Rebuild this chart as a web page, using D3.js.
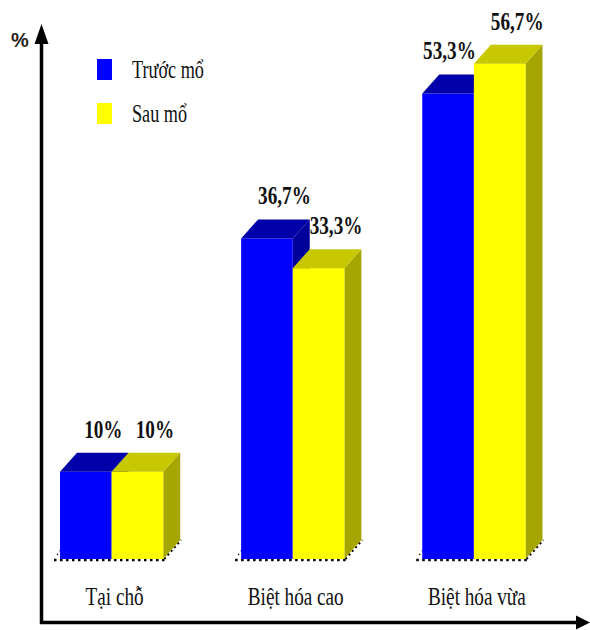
<!DOCTYPE html>
<html>
<head>
<meta charset="utf-8">
<script src="https://cdn.jsdelivr.net/npm/d3@7"></script>
<style>
  html, body { margin: 0; padding: 0; background: #fff; }
  svg { display: block; }
</style>
</head>
<body>
<svg id="chart" width="590" height="630"></svg>
<script>
// Data
const categories = ["Tại chỗ", "Biệt hóa cao", "Biệt hóa vừa"];
const series = ["Trước mổ", "Sau mổ"];
const beforeValues = [10, 36.7, 53.3];
const afterValues = [10, 33.3, 56.7];
const valueLabels = [["10%", "10%"], ["36,7%", "33,3%"], ["53,3%", "56,7%"]];

const values = [beforeValues, afterValues];

// Face colours per series: front, top, side
const palette = [
  { front: "#0000ff", top: "#0000aa", side: "#00009a" },
  { front: "#ffff00", top: "#c8c800", side: "#a6a600" }
];

const svg = d3.select("#chart");

// Scales
const baseY = 559;
const y = d3.scaleLinear().domain([0, 64]).range([baseY, 0]);
const x = d3.scaleBand().domain(categories).range([60, 525.5]).paddingInner(0.43).paddingOuter(0);
const xs = d3.scaleBand().domain(series).range([0, x.bandwidth()]).padding(0);

// 3D depth offset
const DX = 17, DY = 19;

// Floor outline (dotted) under each group
categories.forEach(c => {
  const x0 = x(c), x1 = x(c) + x.bandwidth();
  svg.append("line")
    .attr("x1", x0 - 6).attr("y1", baseY + 1)
    .attr("x2", x1 + 2).attr("y2", baseY + 1)
    .attr("stroke", "#000").attr("stroke-width", 2.5)
    .attr("stroke-dasharray", "2.5,3.5");
  svg.append("line")
    .attr("x1", x1 + 1).attr("y1", baseY)
    .attr("x2", x1 + DX + 1).attr("y2", baseY - DY)
    .attr("stroke", "#000").attr("stroke-width", 2)
    .attr("stroke-dasharray", "2,3");
  svg.append("line")
    .attr("x1", x0 - 3).attr("y1", baseY - 4)
    .attr("x2", x0 + 3).attr("y2", baseY - 12)
    .attr("stroke", "#000").attr("stroke-width", 1.2)
    .attr("stroke-dasharray", "1.5,3");
});

// Bars as extruded boxes
categories.forEach((c, ci) => {
  series.forEach((s, si) => {
    const v = values[si][ci];
    const col = palette[si];
    const bx = x(c) + xs(s), bw = xs.bandwidth();
    const ty = y(v), by = y(0);
    const g = svg.append("g");
    // side
    g.append("polygon")
      .attr("points", [[bx + bw, ty], [bx + bw + DX, ty - DY], [bx + bw + DX, by - DY], [bx + bw, by]].join(" "))
      .attr("fill", col.side);
    // front
    g.append("rect")
      .attr("x", bx).attr("y", ty).attr("width", bw).attr("height", by - ty)
      .attr("fill", col.front);
    // top
    g.append("polygon")
      .attr("points", [[bx, ty], [bx + DX, ty - DY], [bx + bw + DX, ty - DY], [bx + bw, ty]].join(" "))
      .attr("fill", col.top);
  });
});

// Value labels above each bar
categories.forEach((c, ci) => {
  series.forEach((s, si) => {
    const v = values[si][ci];
    const bx = x(c) + xs(s), bw = xs.bandwidth();
    const next = si + 1 < series.length ? values[si + 1][ci] : null;
    let lx = bx + bw / 2 + DX / 2 + 9;
    let anchor = "middle";
    if (next !== null && next > v) {
      // keep clear of the taller neighbour
      lx = bx + bw + 2;
      anchor = "end";
    }
    const ly = y(v) - DY - 15;
    svg.append("g")
      .attr("transform", `translate(${lx},${ly}) scale(0.8,1.04)`)
      .append("text")
      .attr("text-anchor", anchor)
      .attr("font-family", "Liberation Serif, 'Times New Roman', serif")
      .attr("font-weight", "bold")
      .attr("font-size", 24)
      .attr("fill", "#111")
      .text(valueLabels[ci][si]);
  });
});

// Category labels
categories.forEach(c => {
  svg.append("g")
    .attr("transform", `translate(${x(c) + x.bandwidth() / 2 + 3},605) scale(0.8,1.05)`)
    .append("text")
    .attr("text-anchor", "middle")
    .attr("font-family", "Liberation Serif, 'Times New Roman', serif")
    .attr("font-size", 24)
    .attr("fill", "#111")
    .text(c);
});

// Axes with arrow heads
const axisG = svg.append("g");
axisG.append("line")
  .attr("x1", 41.5).attr("y1", 40).attr("x2", 41.5).attr("y2", 624)
  .attr("stroke", "#000").attr("stroke-width", 3.5);
axisG.append("polygon")
  .attr("points", "41.5,24 34.5,44 48.5,44")
  .attr("fill", "#000");
axisG.append("line")
  .attr("x1", 40).attr("y1", 622.5).attr("x2", 580).attr("y2", 622.5)
  .attr("stroke", "#000").attr("stroke-width", 3.5);
axisG.append("polygon")
  .attr("points", "590,622.5 576,615.5 576,629.5")
  .attr("fill", "#000");
axisG.append("text")
  .attr("x", 11).attr("y", 47)
  .attr("font-family", "Liberation Sans, Arial, sans-serif")
  .attr("font-weight", "bold")
  .attr("font-size", 20)
  .attr("fill", "#2a2418")
  .text("%");

// Legend
const legend = svg.append("g");
series.forEach((s, si) => {
  const ly = 59 + si * 44;
  legend.append("rect")
    .attr("x", 97).attr("y", ly).attr("width", 15).attr("height", 21)
    .attr("fill", palette[si].front);
  legend.append("g")
    .attr("transform", `translate(132,${ly + 19}) scale(0.7,1)`)
    .append("text")
    .attr("font-family", "Liberation Serif, 'Times New Roman', serif")
    .attr("font-size", 26)
    .attr("fill", "#111")
    .text(s);
});
</script>
</body>
</html>
